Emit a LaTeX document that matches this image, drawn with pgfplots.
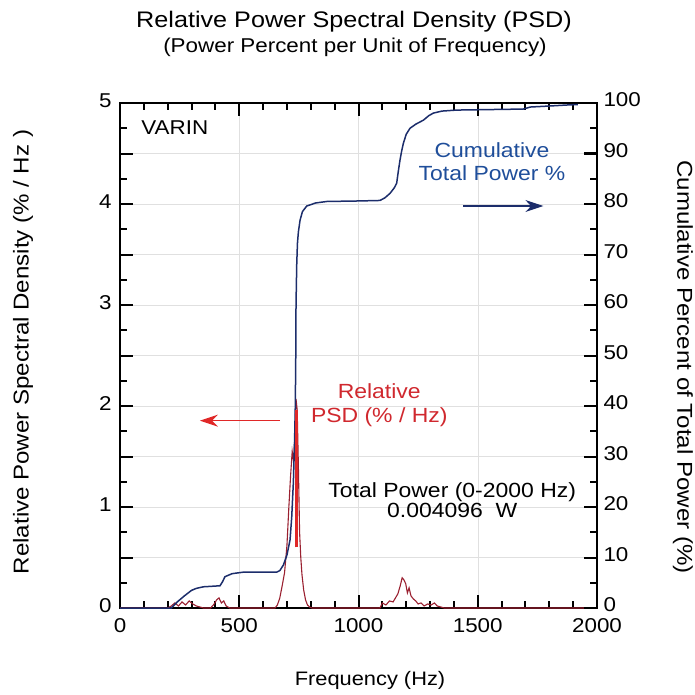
\documentclass[border=0pt]{standalone}
\usepackage{fontspec}
\setmainfont[FakeStretch=1.12]{Liberation Sans}
\usepackage{pgfplots}
\pgfplotsset{compat=1.18}
\usetikzlibrary{arrows.meta}
\definecolor{navy}{HTML}{1C2D6B}
\definecolor{psddark}{HTML}{9A2030}
\definecolor{psdred}{HTML}{E02828}
\definecolor{txtred}{HTML}{D0282E}
\definecolor{txtblue}{HTML}{1F4E9A}
\begin{document}
\begin{tikzpicture}
\useasboundingbox (-120pt,-86pt) rectangle (575pt,608pt);
\begin{axis}[
  scale only axis, width=477pt, height=505pt,
  at={(0pt,0pt)}, anchor=south west,
  xmin=0, xmax=2000, ymin=0, ymax=5,
  xtick={0,500,1000,1500,2000}, minor x tick num=4,
  ytick={0,0.5,1,1.5,2,2.5,3,3.5,4,4.5,5},
  yticklabels={0,,1,,2,,3,,4,,5},
  minor ytick={0.25,0.75,1.25,1.75,2.25,2.75,3.25,3.75,4.25,4.75},
  xmajorgrids, ymajorgrids, major grid style={line width=0.5pt, black!12},
  tick label style={font=\fontsize{20}{20}\selectfont},
  yticklabel style={xshift=-5pt, yshift=2pt},
  xticklabel style={yshift=-7pt},
  /pgf/number format/assume math mode=true,
  /pgf/number format/1000 sep={},
  major tick length=13pt, minor tick length=7pt,
  tick style={black, line width=2pt},
  axis line style={line width=1.8pt},
  clip=false,
]
\addplot[psddark, line width=1.1pt] coordinates {
(0,0) (200,0) (215,0.02) (230,0.05) (245,0.02) (260,0.06) (275,0.03) (290,0.07)
(305,0.04) (320,0.02) (335,0.01) (350,0) (380,0) (395,0.04) (405,0.08) (415,0.1)
(425,0.05) (435,0.07) (445,0.02) (460,0) (650,0) (660,0.03) (670,0.1) (680,0.22)
(690,0.35) (700,0.62) (708,1.0) (715,1.3) (722,1.55) (728,1.45) (733,1.7) (738,2.07)
(743,1.96) (748,1.4) (753,0.75) (758,0.5) (763,0.33) (770,0.18) (778,0.08) (786,0.03)
(795,0.01) (805,0) (1090,0) (1100,0.05) (1115,0.03) (1130,0.07) (1145,0.06) (1155,0.1)
(1165,0.14) (1175,0.22) (1183,0.3) (1190,0.28) (1198,0.24) (1205,0.15) (1212,0.2)
(1220,0.12) (1230,0.09) (1240,0.07) (1250,0.04) (1262,0.05) (1275,0.02) (1290,0.04)
(1305,0.03) (1318,0.05) (1330,0.02) (1345,0.01) (1360,0) (2000,0)
};
\node[anchor=west, font=\fontsize{20}{20}\selectfont] at (axis cs:75,4.76) {VARIN};
\node[align=center, text=txtblue, font=\fontsize{20.5}{23}\selectfont] at (axis cs:1560,4.42) {Cumulative\\Total Power \%};
\node[align=center, text=txtred, font=\fontsize{20.5}{24}\selectfont] at (axis cs:1087,2.01) {Relative\\PSD (\% / Hz)};
\node[align=center, font=\fontsize{20.5}{20}\selectfont] at (axis cs:1393,1.07) {Total Power (0-2000 Hz)\\0.004096\ \ W};
\draw[psdred, line width=1.3pt, -{Stealth[length=18pt,width=12pt]}] (axis cs:671,1.855) -- (axis cs:335,1.855);
\draw[navy, line width=1.3pt, -{Stealth[length=18pt,width=12pt]}] (axis cs:1440,3.98) -- (axis cs:1775,3.98);
\end{axis}
\begin{axis}[
  scale only axis, width=477pt, height=505pt,
  at={(0pt,0pt)}, anchor=south west,
  xmin=0, xmax=2000, ymin=0, ymax=100,
  axis y line*=right, axis x line=none,
  ytick={0,10,20,30,40,50,60,70,80,90,100}, minor y tick num=1,
  tick label style={font=\fontsize{20}{20}\selectfont},
  yticklabel style={xshift=3pt, yshift=3pt},
  /pgf/number format/assume math mode=true,
  major tick length=13pt, minor tick length=7pt,
  tick style={black, line width=2pt},
  axis line style={line width=1.8pt},
]
\addplot[navy, line width=1.5pt] coordinates {
(0,0) (215,0) (240,1.2) (270,2.4) (300,3.5) (321,3.9) (350,4.2) (419,4.4) (430,5.2)
(440,6.2) (470,6.8) (517,7.1) (657,7.1) (670,7.4) (685,8.5) (700,10.5) (713,13.5)
(720,18) (727,25) (732,33) (735,40) (737,50) (738,60) (741,68) (744,72.2) (748,74.5)
(755,76.8) (765,78.5) (783,79.6) (820,80.2) (867,80.5) (1000,80.6) (1090,80.7)
(1110,81.2) (1132,82.1) (1150,83.2) (1160,84.1) (1167,86.5) (1174,88.7) (1181,90.5)
(1188,92) (1200,93.8) (1216,95) (1240,95.8) (1272,96.6) (1295,97.5) (1314,98)
(1350,98.4) (1412,98.6) (1691,98.8) (1720,99.2) (1800,99.4) (1873,99.6) (1920,99.7)
};
\addplot[psdred, line width=3pt] coordinates {(742,12) (742,39.2)};
\end{axis}
\node[font=\fontsize{22.5}{22.5}\selectfont] at (234pt,586pt) {Relative Power Spectral Density (PSD)};
\node[font=\fontsize{20}{20}\selectfont] at (235pt,561pt) {(Power Percent per Unit of Frequency)};
\node[rotate=90, font=\fontsize{21.5}{21.5}\selectfont] at (-97pt,256pt) {Relative Power Spectral Density (\% / Hz )};
\node[rotate=-90, font=\fontsize{21.5}{21.5}\selectfont] at (563pt,241pt) {Cumulative Percent of Total Power (\%)};
\node[font=\fontsize{19.5}{19.5}\selectfont] at (250pt,-72pt) {Frequency (Hz)};
\end{tikzpicture}
\end{document}
